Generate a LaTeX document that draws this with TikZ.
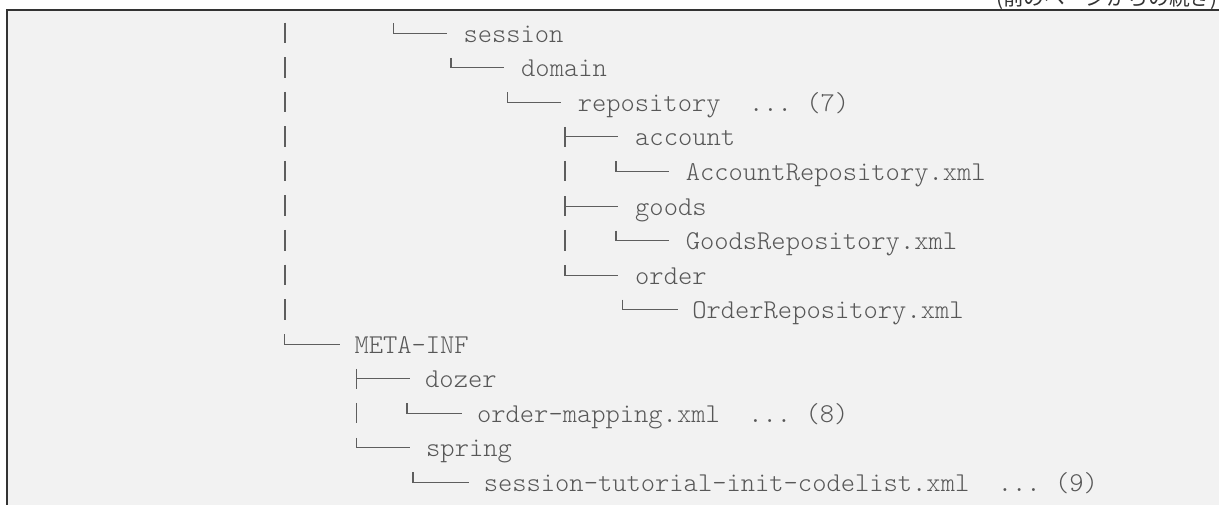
\documentclass[tikz,border=0pt]{standalone}
\usepackage{fontspec}
\newfontfamily\jpfont{Noto Sans CJK JP}
\definecolor{bgcol}{HTML}{F2F2F2}
\definecolor{framecol}{HTML}{333333}
\definecolor{txtcol}{HTML}{575757}
\definecolor{linecol}{HTML}{5E5E5E}
\tikzset{
  code/.style={anchor=base west, inner sep=0pt, outer sep=0pt, text=txtcol,
    font=\fontsize{20.4}{24}\ttfamily\fontseries{l}\selectfont},
  treeline/.style={draw=linecol, line width=0.8pt},
}
% corner: x of vertical, y of horizontal, x end of horizontal, name
\newcommand\tcorner[4]{%
  \coordinate (#4top) at (#1,#2-10);
  \coordinate (#4end) at (#3,#2);
  \draw[treeline] (#4top) |- (#4end);}
% tee
\newcommand\ttee[4]{%
  \coordinate (#4top) at (#1,#2-10);
  \coordinate (#4bot) at (#1,#2+10);
  \coordinate (#4mid) at (#1,#2);
  \coordinate (#4end) at (#3,#2);
  \draw[treeline] (#4top) -- (#4bot) (#4mid) -- (#4end);}
% bar
\newcommand\tbar[2]{\draw[treeline] (#1,#2-10.6) -- (#1,#2+10);}
\begin{document}
\begin{tikzpicture}[x=0.75pt,y=-0.75pt]
\useasboundingbox (0,0) rectangle (1219,505);
\fill[bgcol] (7,10) rectangle (1219,505);
\draw[framecol, line width=1.1pt] (7,505) -- (7,10) -- (1219,10);
\begin{scope}
  \clip (0,0) rectangle (1219,505);
  \node[anchor=base east, inner sep=0pt, text=framecol,
        font=\jpfont\fontsize{15.6}{17}\selectfont] (hdr) at (1218,5.5) {(前のページからの続き)};
\end{scope}

% texts
\node[code] (session)  at (463.5,42.3)  {session};
\node[code] (domain)   at (521.2,76.85) {domain};
\node[code] (repo)     at (577.8,111.4) {repository\ \ ...\ (7)};
\node[code] (account)  at (635.2,145.95) {account};
\node[code] (accrepo)  at (685.8,180.5) {AccountRepository.xml};
\node[code] (goods)    at (635.2,215.05) {goods};
\node[code] (goodsrepo) at (685.8,249.6) {GoodsRepository.xml};
\node[code] (order)    at (635.2,284.15) {order};
\node[code] (orderrepo) at (692.3,318.7) {OrderRepository.xml};
\node[code] (metainf)  at (354.5,353.25) {META-INF};
\node[code] (dozer)    at (425.2,387.8) {dozer};
\node[code] (mapping)  at (477.1,422.35) {order-mapping.xml\ \ ...\ (8)};
\node[code] (spring)   at (426.2,456.9) {spring};
\node[code] (codelist) at (483.8,491.45) {session-tutorial-init-codelist.xml\ \ ...\ (9)};

% connectors
\tcorner{393.3}{33.3}{446.7}{c0}
\tcorner{451}{67.85}{504.4}{c1}
\tcorner{507.6}{102.4}{561}{c2}
\ttee{565}{136.95}{618.4}{c3}
\tcorner{616}{171.5}{669.4}{c4}
\ttee{565}{206.05}{618.4}{c5}
\tcorner{616}{240.6}{669.4}{c6}
\tcorner{565}{275.15}{618.4}{c7}
\tcorner{622.7}{309.7}{678.3}{c8}
\tcorner{284.7}{344.25}{340}{c9}
\ttee{356.7}{378.8}{410}{c10}
\tcorner{407}{413.35}{462}{c11}
\tcorner{356.5}{447.9}{410}{c12}
\tcorner{413}{482.45}{468.7}{c13}

% continuation bars
\foreach \h in {33.3,67.85,102.4,136.95,171.5,206.05,240.6,275.15,309.7} {\tbar{285}{\h}}
\tbar{565}{171.5}
\tbar{565}{240.6}
\tbar{356.5}{413.35}
\end{tikzpicture}
\end{document}
